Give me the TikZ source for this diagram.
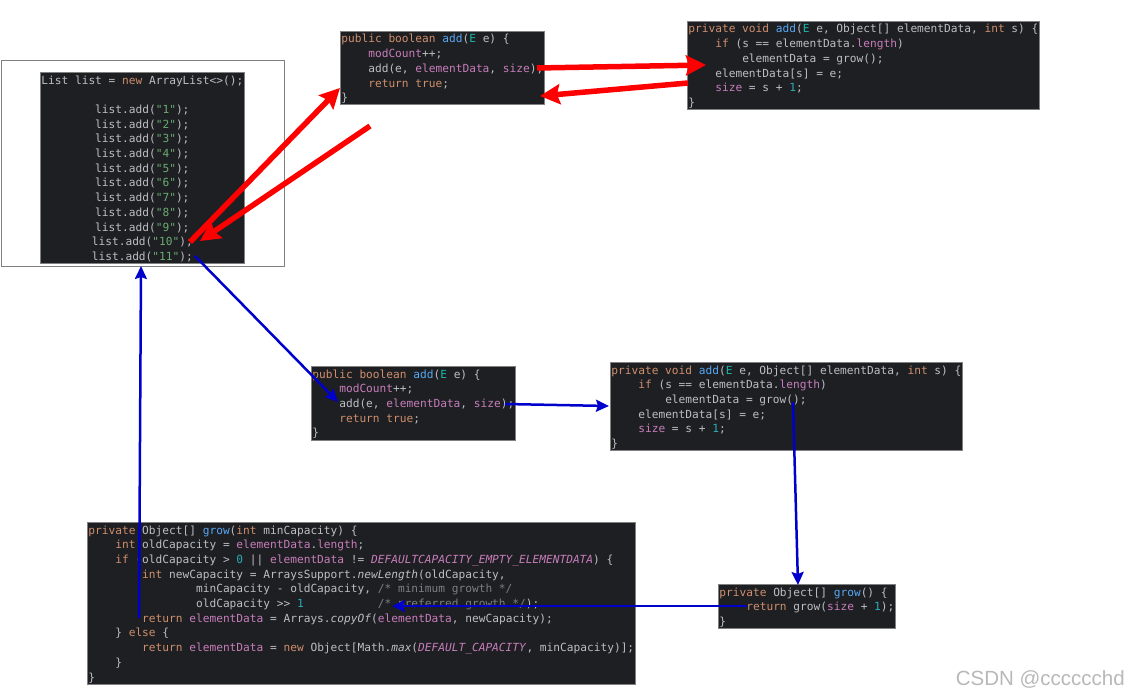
\documentclass[tikz,border=0pt]{standalone}
\usepackage{fontspec}
\setmonofont{DejaVu Sans Mono}
\newfontfamily\markfont{Liberation Sans}
\usetikzlibrary{arrows.meta}
\definecolor{codebg}{HTML}{1E1F22}
\definecolor{codefg}{HTML}{BCBEC4}
\definecolor{codekw}{HTML}{CF8E6D}
\definecolor{codefn}{HTML}{56A8F5}
\definecolor{codefld}{HTML}{C77DBB}
\definecolor{codestr}{HTML}{6AAB73}
\definecolor{codenum}{HTML}{2AACB8}
\definecolor{codecmt}{HTML}{7A7E85}
\definecolor{codetp}{HTML}{16BAAC}
\definecolor{boxgray}{HTML}{808080}
\definecolor{arrowred}{HTML}{FF0000}
\definecolor{arrowblue}{HTML}{0000CC}
\definecolor{markgray}{HTML}{B8B8B8}
\newcommand{\Kw}[1]{\textcolor{codekw}{#1}}
\newcommand{\Fn}[1]{\textcolor{codefn}{#1}}
\newcommand{\Fld}[1]{\textcolor{codefld}{#1}}
\newcommand{\FldIt}[1]{\textcolor{codefld}{\textit{#1}}}
\newcommand{\Str}[1]{\textcolor{codestr}{#1}}
\newcommand{\Num}[1]{\textcolor{codenum}{#1}}
\newcommand{\Cmt}[1]{\textcolor{codecmt}{#1}}
\newcommand{\Tp}[1]{\textcolor{codetp}{#1}}
% Suportes invisiveis: primeira e ultima linha de cada bloco
\newcommand{\Top}{\rule{0pt}{11.6pt}}
\newcommand{\Bot}{\rule[-3.1pt]{0pt}{3.1pt}}
\tikzset{
    codebox/.style={fill=codebg, draw=boxgray, line width=0.8pt, anchor=north west,
        inner xsep=1pt, inner ysep=0pt, align=left, text=codefg,
        font={\ttfamily\fontsize{11.18}{14.7}\selectfont}},
    redArrow/.style={draw=arrowred, line width=5.5pt, -{Stealth[length=20pt, width=20pt, inset=3pt]}},
    blueArrow/.style={draw=arrowblue, line width=2.5pt, -{Stealth[length=13pt, width=12pt, inset=2pt]}}
}

\begin{document}
\begin{tikzpicture}[x=1pt,y=-1pt]
    \useasboundingbox (0,0) rectangle (1128,698);

    % Moldura branca do main
    \node[draw=boxgray, line width=1pt, anchor=north west, inner sep=0pt,
        minimum width=283pt, minimum height=205pt] (mainFrame) at (0.5,60.5) {};
    \node[codebox, align=center] (mainBox) at (40,72) {%
        \Top List list = \Kw{new} ArrayList<>();\\
        \\
        list.add(\Str{"1"});\\
        list.add(\Str{"2"});\\
        list.add(\Str{"3"});\\
        list.add(\Str{"4"});\\
        list.add(\Str{"5"});\\
        list.add(\Str{"6"});\\
        list.add(\Str{"7"});\\
        list.add(\Str{"8"});\\
        list.add(\Str{"9"});\\
        list.add(\Str{"10"});~\\
        list.add(\Str{"11"});\Bot};

    % Primeira chamada (sem crescer)
    \node[codebox] (addTop) at (340,31) {%
        \Top\Kw{public boolean} \Fn{add}(\Tp{E} e) \{\\
        ~~~~\Fld{modCount}++;\\
        ~~~~add(e, \Fld{elementData}, \Fld{size});\\
        ~~~~\Kw{return true};\\
        \}\Bot};
    \node[codebox] (helperTop) at (687,21) {%
        \Top\Kw{private void} \Fn{add}(\Tp{E} e, Object[] elementData, \Kw{int} s) \{\\
        ~~~~\Kw{if} (s == elementData.\Fld{length})\\
        ~~~~~~~~elementData = grow();\\
        ~~~~elementData[s] = e;\\
        ~~~~\Fld{size} = s + \Num{1};\\
        \}\Bot};

    % Segunda chamada (com crescimento)
    \node[codebox] (addMid) at (311,366) {%
        \Top\Kw{public boolean} \Fn{add}(\Tp{E} e) \{\\
        ~~~~\Fld{modCount}++;\\
        ~~~~add(e, \Fld{elementData}, \Fld{size});\\
        ~~~~\Kw{return true};\\
        \}\Bot};
    \node[codebox] (helperMid) at (610,362) {%
        \Top\Kw{private void} \Fn{add}(\Tp{E} e, Object[] elementData, \Kw{int} s) \{\\
        ~~~~\Kw{if} (s == elementData.\Fld{length})\\
        ~~~~~~~~elementData = grow();\\
        ~~~~elementData[s] = e;\\
        ~~~~\Fld{size} = s + \Num{1};\\
        \}\Bot};
    \node[codebox] (growBox) at (718,584) {%
        \Top\Kw{private} Object[] \Fn{grow}() \{\\
        ~~~~\Kw{return} grow(\Fld{size} + \Num{1});\\
        \}\Bot};
    \node[codebox] (growCapBox) at (87,522) {%
        \Top\Kw{private} Object[] \Fn{grow}(\Kw{int} minCapacity) \{\\
        ~~~~\Kw{int} oldCapacity = \Fld{elementData}.\Fld{length};\\
        ~~~~\Kw{if} (oldCapacity > \Num{0} || \Fld{elementData} != \FldIt{DEFAULTCAPACITY\_EMPTY\_ELEMENTDATA}) \{\\
        ~~~~~~~~\Kw{int} newCapacity = ArraysSupport.\textit{newLength}(oldCapacity,\\
        ~~~~~~~~~~~~~~~~minCapacity - oldCapacity, \Cmt{/* minimum growth */}\\
        ~~~~~~~~~~~~~~~~oldCapacity >> \Num{1}~~~~~~~~~~~\Cmt{/* preferred growth */});\\
        ~~~~~~~~\Kw{return} \Fld{elementData} = Arrays.\textit{copyOf}(\Fld{elementData}, newCapacity);\\
        ~~~~\} \Kw{else} \{\\
        ~~~~~~~~\Kw{return} \Fld{elementData} = \Kw{new} Object[Math.\textit{max}(\FldIt{DEFAULT\_CAPACITY}, minCapacity)];\\
        ~~~~\}\\
        \}\Bot};

    % Pontos de partida e chegada das setas
    \coordinate(R1a) at (190,242);
    \coordinate(R1b) at (340,88);
    \coordinate(R2a) at (370,126);
    \coordinate(R2b) at (200,241);
    \coordinate(R3a) at (537,68);
    \coordinate(R3b) at (706,65);
    \coordinate(R4a) at (688,83);
    \coordinate(R4b) at (540,96);
    \coordinate(B1a) at (195,256);
    \coordinate(B1b) at (338,402);
    \coordinate(B2a) at (505,404);
    \coordinate(B2b) at (609,406);
    \coordinate(B3a) at (793,402);
    \coordinate(B3b) at (798,585);
    \coordinate(B4a) at (747,606);
    \coordinate(B4b) at (392,606);
    \coordinate(B5a) at (139,618);
    \coordinate(B5b) at (141,266);

    \draw[redArrow] (R1a) -- (R1b);
    \draw[redArrow] (R2a) -- (R2b);
    \draw[redArrow] (R3a) -- (R3b);
    \draw[redArrow] (R4a) -- (R4b);

    \draw[blueArrow] (B1a) -- (B1b);
    \draw[blueArrow] (B2a) -- (B2b);
    \draw[blueArrow] (B3a) -- (B3b);
    \draw[blueArrow] (B4a) -- (B4b);
    \draw[blueArrow] (B5a) -- (B5b);

    \node[anchor=east, inner sep=0pt, text=markgray,
        font={\markfont\fontsize{20.5}{24}\selectfont}] (csdn) at (1125,679) {CSDN @cccccchd};
\end{tikzpicture}
\end{document}
